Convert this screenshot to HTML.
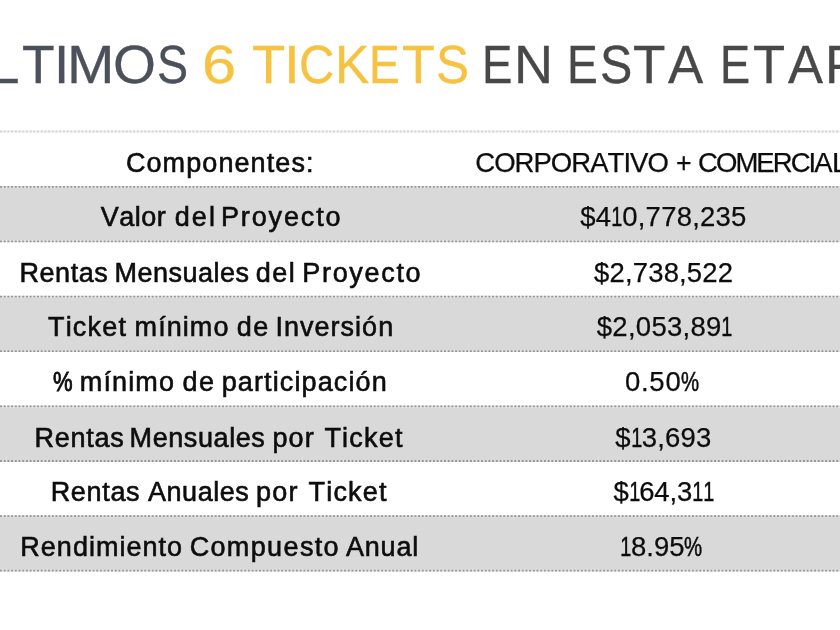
<!DOCTYPE html>
<html><head><meta charset="utf-8">
<style>
html,body{margin:0;padding:0;}
body{width:840px;height:630px;overflow:hidden;background:#fff;position:relative;font-family:"Liberation Sans",sans-serif;font-kerning:none;}
.bg{position:absolute;left:0;top:0;}
.tx{position:absolute;left:0;top:0;width:840px;height:630px;filter:blur(0.45px);}
.t{-webkit-text-stroke:0.3px currentColor;position:absolute;top:38.02px;font-size:53.0px;line-height:53.0px;transform-origin:0 50%;white-space:nowrap;}
.a{color:#4c505a;} .y{color:#f5c242;} .d{color:#484848;}
.c{position:absolute;white-space:nowrap;color:#0d0d0d;transform-origin:0 50%;}
.l{font-size:27.0px;line-height:27.0px;-webkit-text-stroke:0.6px #0d0d0d;}
.r{font-size:27.5px;line-height:27.5px;-webkit-text-stroke:0.25px #0d0d0d;}
.c i{font-style:normal;display:inline-block;transform:scaleX(.72);transform-origin:52% 50%;margin:0 -2.5px 0 -2.1px;-webkit-text-stroke:0.5px #0d0d0d;}
.c b{font-weight:normal;display:inline-block;transform:scaleX(.74);transform-origin:0 50%;margin-right:-6.5px;-webkit-text-stroke:0.55px #0d0d0d;}
</style></head><body>
<svg class="bg" width="840" height="630" viewBox="0 0 840 630"><rect x="0" y="187.8" width="840" height="52.7" fill="#d9d9d9"/><rect x="0" y="297.6" width="840" height="52.8" fill="#d9d9d9"/><rect x="0" y="407.4" width="840" height="52.8" fill="#d9d9d9"/><rect x="0" y="517.1" width="840" height="52.8" fill="#d9d9d9"/><line x1="0" x2="840" y1="131.5" y2="131.5" stroke="#f1f1f1" stroke-width="1.8"/><line x1="0" x2="840" y1="131.5" y2="131.5" stroke="#d4d4d4" stroke-width="1.8" stroke-dasharray="2 1.7"/><line x1="0" x2="840" y1="186.8" y2="186.8" stroke="#e2e2e2" stroke-width="1.8"/><line x1="0" x2="840" y1="186.8" y2="186.8" stroke="#989898" stroke-width="1.8" stroke-dasharray="2 1.7"/><line x1="0" x2="840" y1="241.3" y2="241.3" stroke="#e2e2e2" stroke-width="1.8"/><line x1="0" x2="840" y1="241.3" y2="241.3" stroke="#989898" stroke-width="1.8" stroke-dasharray="2 1.7"/><line x1="0" x2="840" y1="296.6" y2="296.6" stroke="#e2e2e2" stroke-width="1.8"/><line x1="0" x2="840" y1="296.6" y2="296.6" stroke="#989898" stroke-width="1.8" stroke-dasharray="2 1.7"/><line x1="0" x2="840" y1="351.2" y2="351.2" stroke="#e2e2e2" stroke-width="1.8"/><line x1="0" x2="840" y1="351.2" y2="351.2" stroke="#989898" stroke-width="1.8" stroke-dasharray="2 1.7"/><line x1="0" x2="840" y1="406.4" y2="406.4" stroke="#e2e2e2" stroke-width="1.8"/><line x1="0" x2="840" y1="406.4" y2="406.4" stroke="#989898" stroke-width="1.8" stroke-dasharray="2 1.7"/><line x1="0" x2="840" y1="461.0" y2="461.0" stroke="#e2e2e2" stroke-width="1.8"/><line x1="0" x2="840" y1="461.0" y2="461.0" stroke="#989898" stroke-width="1.8" stroke-dasharray="2 1.7"/><line x1="0" x2="840" y1="516.1" y2="516.1" stroke="#e2e2e2" stroke-width="1.8"/><line x1="0" x2="840" y1="516.1" y2="516.1" stroke="#989898" stroke-width="1.8" stroke-dasharray="2 1.7"/><line x1="0" x2="840" y1="570.7" y2="570.7" stroke="#e2e2e2" stroke-width="1.8"/><line x1="0" x2="840" y1="570.7" y2="570.7" stroke="#989898" stroke-width="1.8" stroke-dasharray="2 1.7"/></svg>
<div class="tx">
<span class="t a" style="left:-10.80px;transform:scaleX(1.0356)">L</span>
<span class="t a" style="left:21.70px;transform:scaleX(1.0077)">T</span>
<span class="t a" style="left:53.85px;transform:scaleX(1.0318)">I</span>
<span class="t a" style="left:66.73px;transform:scaleX(1.0746)">M</span>
<span class="t a" style="left:112.78px;transform:scaleX(1.0420)">O</span>
<span class="t a" style="left:156.79px;transform:scaleX(0.8784)">S</span>
<span class="t y" style="left:201.89px;transform:scaleX(1.1572)">6</span>
<span class="t y" style="left:251.88px;transform:scaleX(1.0278)">T</span>
<span class="t y" style="left:284.06px;transform:scaleX(1.0723)">I</span>
<span class="t y" style="left:298.51px;transform:scaleX(0.9236)">C</span>
<span class="t y" style="left:334.77px;transform:scaleX(0.9734)">K</span>
<span class="t y" style="left:369.12px;transform:scaleX(0.8703)">E</span>
<span class="t y" style="left:401.99px;transform:scaleX(1.0144)">T</span>
<span class="t y" style="left:436.05px;transform:scaleX(0.9341)">S</span>
<span class="t d" style="left:482.26px;transform:scaleX(0.8599)">E</span>
<span class="t d" style="left:513.77px;transform:scaleX(1.0201)">N</span>
<span class="t d" style="left:567.32px;transform:scaleX(0.8703)">E</span>
<span class="t d" style="left:599.50px;transform:scaleX(0.9144)">S</span>
<span class="t d" style="left:633.11px;transform:scaleX(1.0011)">T</span>
<span class="t d" style="left:668.00px;transform:scaleX(0.9959)">A</span>
<span class="t d" style="left:720.19px;transform:scaleX(0.8529)">E</span>
<span class="t d" style="left:753.42px;transform:scaleX(0.9911)">T</span>
<span class="t d" style="left:788.10px;transform:scaleX(0.9902)">A</span>
<span class="t d" style="left:825.03px;transform:scaleX(0.9820)">P</span>
<span class="c l" style="left:125.93px;top:150.00px;letter-spacing:1.085px">Componentes:</span>
<span class="c r" style="left:475.30px;top:149.00px;letter-spacing:-0.970px">CORPORATIVO</span>
<span class="c r" style="left:675.69px;top:149.00px;transform:scaleX(0.9730)">+</span>
<span class="c r" style="left:698.10px;top:149.00px;letter-spacing:-1.965px">COMERCIA</span>
<span class="c r" style="left:832.17px;top:149.00px;transform:scaleX(1.0309)">L</span>
<span class="c l" style="left:100.68px;top:204.00px;letter-spacing:0.484px">Valor</span>
<span class="c l" style="left:174.67px;top:204.00px;letter-spacing:2.155px">del</span>
<span class="c l" style="left:220.89px;top:204.00px;letter-spacing:1.886px">Proyecto</span>
<span class="c r" style="left:580.30px;top:203.00px;letter-spacing:0.218px">$4<i>1</i>0,778,235</span>
<span class="c l" style="left:19.54px;top:260.00px;letter-spacing:0.528px">Rentas</span>
<span class="c l" style="left:114.54px;top:260.00px;letter-spacing:0.484px">Mensuales</span>
<span class="c l" style="left:255.87px;top:260.00px;letter-spacing:1.455px">del</span>
<span class="c l" style="left:302.29px;top:260.00px;letter-spacing:1.686px">Proyecto</span>
<span class="c r" style="left:594.12px;top:259.00px;letter-spacing:0.142px">$2,738,522</span>
<span class="c l" style="left:47.99px;top:314.00px;letter-spacing:1.179px">Ticket</span>
<span class="c l" style="left:134.61px;top:314.00px;letter-spacing:1.062px">mínimo</span>
<span class="c l" style="left:236.87px;top:314.00px;letter-spacing:1.401px">de</span>
<span class="c l" style="left:275.41px;top:314.00px;letter-spacing:1.024px">Inversión</span>
<span class="c r" style="left:596.80px;top:313.00px;letter-spacing:0.271px">$2,053,89<i>1</i></span>
<span class="c l" style="left:53.32px;top:369.00px;transform:scaleX(0.8151);-webkit-text-stroke-width:0.95px">%</span>
<span class="c l" style="left:79.81px;top:369.00px;letter-spacing:1.142px">mínimo</span>
<span class="c l" style="left:182.47px;top:369.00px;letter-spacing:1.401px">de</span>
<span class="c l" style="left:221.66px;top:369.00px;letter-spacing:1.126px">participación</span>
<span class="c r" style="left:624.94px;top:368.00px;letter-spacing:0.750px">0.50<b>%</b></span>
<span class="c l" style="left:34.59px;top:425.00px;letter-spacing:0.708px">Rentas</span>
<span class="c l" style="left:129.59px;top:425.00px;letter-spacing:0.590px">Mensuales</span>
<span class="c l" style="left:272.56px;top:425.00px;letter-spacing:1.033px">por</span>
<span class="c l" style="left:324.39px;top:425.00px;letter-spacing:1.219px">Ticket</span>
<span class="c r" style="left:615.30px;top:424.00px;letter-spacing:0.200px">$<i>1</i>3,693</span>
<span class="c l" style="left:50.69px;top:479.00px;letter-spacing:0.668px">Rentas</span>
<span class="c l" style="left:147.95px;top:479.00px;letter-spacing:0.559px">Anuales</span>
<span class="c l" style="left:255.96px;top:479.00px;letter-spacing:1.283px">por</span>
<span class="c l" style="left:308.59px;top:479.00px;letter-spacing:1.179px">Ticket</span>
<span class="c r" style="left:613.44px;top:478.00px;letter-spacing:-0.149px">$<i>1</i>64,3<i>1</i><i>1</i></span>
<span class="c l" style="left:20.29px;top:534.00px;letter-spacing:1.026px">Rendimiento</span>
<span class="c l" style="left:189.63px;top:534.00px;letter-spacing:1.367px">Compuesto</span>
<span class="c l" style="left:345.95px;top:534.00px;letter-spacing:0.826px">Anual</span>
<span class="c r" style="left:620.40px;top:533.00px;letter-spacing:-0.040px"><i>1</i>8.95<b>%</b></span>
</div>
</body></html>
